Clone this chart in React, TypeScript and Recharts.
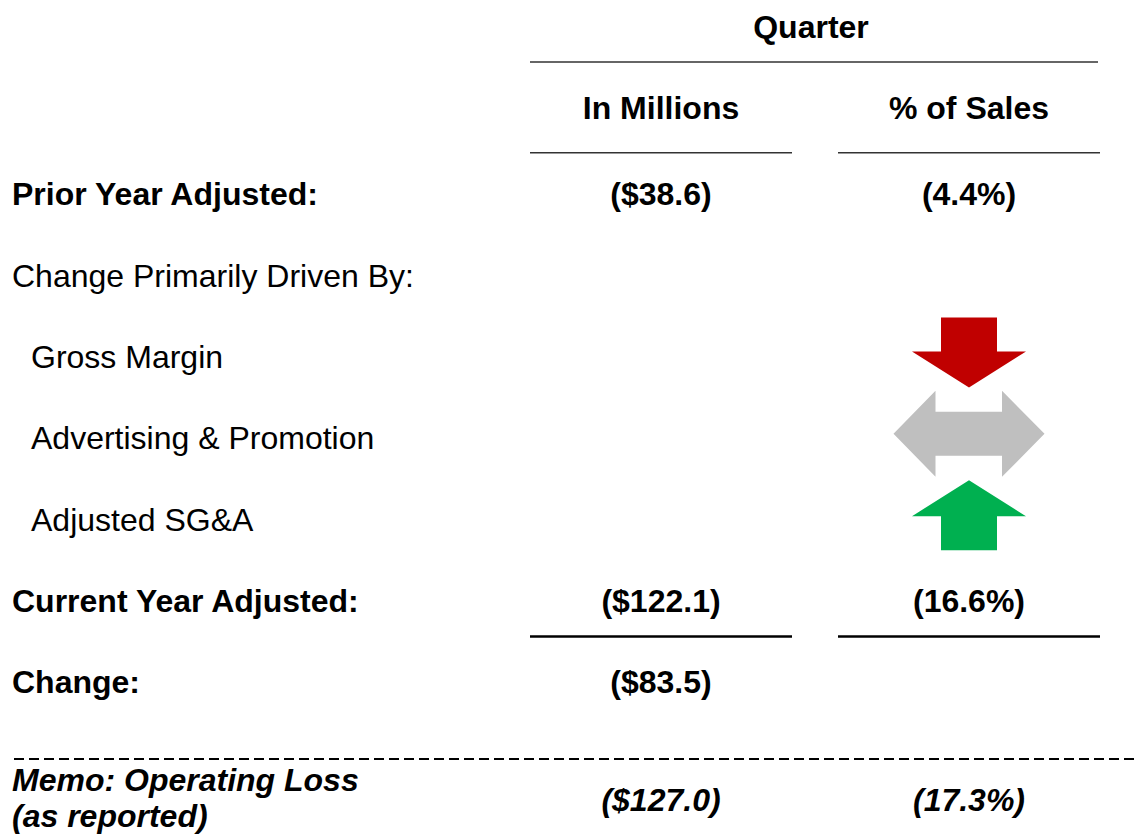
import { ScatterChart, Scatter, XAxis, YAxis } from 'recharts'

const quarterTitle = 'Quarter'
const columnHeads = ['In Millions', '% of Sales']
const rowLabels = [
  'Prior Year Adjusted:',
  'Change Primarily Driven By:',
  'Gross Margin',
  'Advertising & Promotion',
  'Adjusted SG&A',
  'Current Year Adjusted:',
  'Change:',
  'Memo: Operating Loss\n(as reported)',
]
const rowKinds = ['total', 'heading', 'driver', 'driver', 'driver', 'subtotal', 'total', 'memo']
const millions: (number | null)[] = [-38.6, null, null, null, null, -122.1, -83.5, -127.0]
const pctOfSales: (number | null)[] = [-4.4, null, null, null, null, -16.6, null, -17.3]
const drivers: (string | null)[] = [null, null, 'down', 'flat', 'up', null, null, null]

const W = 1134
const H = 835
const FONT = '"Liberation Sans", Arial, Helvetica, sans-serif'
const FS = 32
const HEAD_ROWS = 2
const MEMO_GAP = 0.45

const slotOf = (i: number) => HEAD_ROWS + i + (rowKinds[i] === 'memo' ? MEMO_GAP : 0)
const slots = rowLabels.map((_, i) => slotOf(i))

const fmtMoney = (v: number) => (v < 0 ? `($${Math.abs(v).toFixed(1)})` : `$${v.toFixed(1)}`)
const fmtPct = (v: number) => (v < 0 ? `(${Math.abs(v).toFixed(1)}%)` : `${v.toFixed(1)}%`)

const headPts = [
  { col: 0.5, slot: 0, text: quarterTitle, kind: 'title' },
  ...columnHeads.map((t, c) => ({ col: c, slot: 1, text: t, kind: 'head' })),
]
const valuePts = rowLabels.flatMap((_, i) => {
  const out: { col: number; slot: number; text: string; kind: string }[] = []
  if (millions[i] != null) out.push({ col: 0, slot: slots[i], text: fmtMoney(millions[i] as number), kind: rowKinds[i] })
  if (pctOfSales[i] != null) out.push({ col: 1, slot: slots[i], text: fmtPct(pctOfSales[i] as number), kind: rowKinds[i] })
  return out
})
const arrowPts = rowLabels.flatMap((_, i) => (drivers[i] ? [{ col: 1, slot: slots[i], dir: drivers[i] }] : []))
const rulePts = rowLabels.flatMap((_, i) =>
  rowKinds[i] === 'subtotal' ? columnHeads.map((_, c) => ({ col: c, slot: slots[i] })) : []
)

const ARROW_COLORS: Record<string, string> = { down: '#C00000', flat: '#BFBFBF', up: '#00B050' }

function HeadShape(props: any) {
  const { cx, cy, payload } = props
  if (payload.kind === 'title') {
    const y = cy - 5
    return (
      <g>
        <text x={cx - 4} y={y} dy="0.36em" textAnchor="middle" fontFamily={FONT} fontSize={FS} fontWeight="bold" fill="#000">
          {payload.text}
        </text>
        <line x1={cx - 285} x2={cx + 283} y1={y + 36} y2={y + 36} stroke="#333" strokeWidth={1.5} />
      </g>
    )
  }
  const y = cy - 4.5
  return (
    <g>
      <text x={cx} y={y} dy="0.36em" textAnchor="middle" fontFamily={FONT} fontSize={FS} fontWeight="bold" fill="#000">
        {payload.text}
      </text>
      <line x1={cx - 131} x2={cx + 131} y1={y + 45} y2={y + 45} stroke="#333" strokeWidth={1.5} />
    </g>
  )
}

function ValueShape(props: any) {
  const { cx, cy, payload } = props
  return (
    <text
      x={cx}
      y={cy}
      dy="0.36em"
      textAnchor="middle"
      fontFamily={FONT}
      fontSize={FS}
      fontWeight="bold"
      fontStyle={payload.kind === 'memo' ? 'italic' : 'normal'}
      fill="#000"
    >
      {payload.text}
    </text>
  )
}

function RuleShape(props: any) {
  const { cx, cy } = props
  return <line x1={cx - 131} x2={cx + 131} y1={cy + 36} y2={cy + 36} stroke="#000" strokeWidth={2.5} />
}

function ArrowShape(props: any) {
  const { cx, payload } = props
  const cy = props.cy - 4
  const fill = ARROW_COLORS[payload.dir]
  let pts: number[][] = []
  if (payload.dir === 'down') {
    pts = [[-28, -35], [28, -35], [28, -1], [57, -1], [0, 35], [-57, -1], [-28, -1]]
  } else if (payload.dir === 'up') {
    pts = [[0, -35], [57, 1], [28, 1], [28, 35], [-28, 35], [-28, 1], [-57, 1]]
  } else {
    pts = [[-75.5, 0], [-33.5, -43], [-33.5, -22], [33, -22], [33, -43], [75.5, 0], [33, 43], [33, 22], [-33.5, 22], [-33.5, 43]]
  }
  return <polygon points={pts.map(([x, y]) => `${cx + x},${cy + y}`).join(' ')} fill={fill} />
}

function RowTick(props: any) {
  const { y, payload } = props
  const i = slots.indexOf(payload.value)
  if (i < 0) return <g />
  const kind = rowKinds[i]
  const bold = kind !== 'heading' && kind !== 'driver'
  const x = kind === 'driver' ? 31 : 12
  if (kind === 'memo') {
    const lines = rowLabels[i].split('\n')
    return (
      <g>
        <line x1={14} x2={W} y1={y - 41} y2={y - 41} stroke="#000" strokeWidth={2} strokeDasharray="10 5" />
        {lines.map((ln, k) => (
          <text key={k} x={x} y={y - 9 + k * 36} fontFamily={FONT} fontSize={FS} fontWeight="bold" fontStyle="italic" fill="#000">
            {ln}
          </text>
        ))}
      </g>
    )
  }
  return (
    <text x={x} y={y} dy="0.36em" fontFamily={FONT} fontSize={FS} fontWeight={bold ? 'bold' : 'normal'} fill="#000">
      {rowLabels[i]}
    </text>
  )
}

export default function App() {
  return (
    <div style={{ position: 'absolute', left: 0, top: 0, width: W, height: H, background: '#fff' }}>
      <ScatterChart width={W} height={H} margin={{ top: 31, right: 11, bottom: 31, left: 0 }}>
        <XAxis type="number" dataKey="col" domain={[-0.5, 1.5]} hide height={0} />
        <YAxis
          type="number"
          dataKey="slot"
          domain={[0, 9.5]}
          reversed
          width={507}
          ticks={slots}
          interval={0}
          axisLine={false}
          tickLine={false}
          tick={RowTick}
        />
        <Scatter data={headPts} shape={HeadShape} isAnimationActive={false} />
        <Scatter data={rulePts} shape={RuleShape} isAnimationActive={false} />
        <Scatter data={arrowPts} shape={ArrowShape} isAnimationActive={false} />
        <Scatter data={valuePts} shape={ValueShape} isAnimationActive={false} />
      </ScatterChart>
    </div>
  )
}
